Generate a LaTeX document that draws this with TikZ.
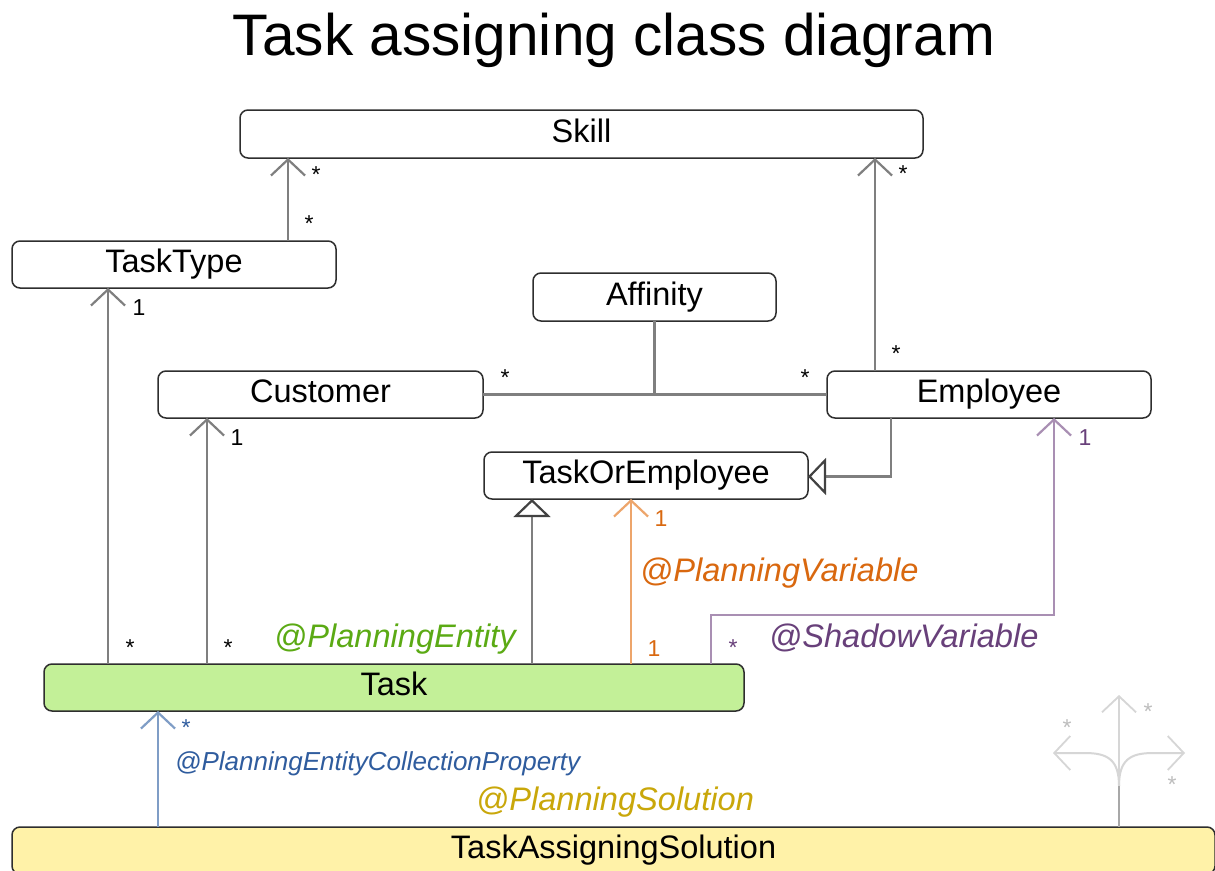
\documentclass[tikz,border=0pt]{standalone}
\usepackage{fontspec}
\setmainfont{Liberation Sans}
\usetikzlibrary{arrows.meta}
\definecolor{linegrey}{HTML}{7F7F7F}
\definecolor{boxline}{HTML}{2E2E2E}
\definecolor{taskfill}{HTML}{C3F098}
\definecolor{solfill}{HTML}{FFF2A8}
\definecolor{bluel}{HTML}{7F9DC6}
\definecolor{bluet}{HTML}{2F5C9E}
\definecolor{orangel}{HTML}{EDA56B}
\definecolor{oranget}{HTML}{D9680F}
\definecolor{purplel}{HTML}{A98FB3}
\definecolor{purplet}{HTML}{68407A}
\definecolor{greent}{HTML}{5BAA14}
\definecolor{yellowt}{HTML}{C9A70A}
\definecolor{forkl}{HTML}{D6D6D6}
\definecolor{forkd}{HTML}{A8A8A8}
\definecolor{forkt}{HTML}{BDBDBD}
\tikzset{
  cls/.style={draw=boxline,line width=1.5pt,rounded corners=8pt,fill=white,inner sep=0pt,outer sep=0pt,
    font=\fontsize{32.5}{32.5}\selectfont,text height=24pt,text depth=8pt,align=center},
  conn/.style={draw=linegrey,line width=2.8pt},
  barb/.style={-{Straight Barb[length=16pt,width=34pt,line width=2.2pt]}},
  gen/.style={-{Triangle[open,fill=white,length=18pt,width=37pt,line width=2.2pt,color=boxline!75!linegrey,fill=white]}},
  forkbarb/.style={-{Straight Barb[length=16pt,width=34pt,line width=1.8pt]}},
  mult/.style={font=\fontsize{23}{23}\selectfont,inner sep=0pt,anchor=base},
  anno/.style={font=\fontsize{32.6}{32.6}\itshape\selectfont,inner sep=0pt,anchor=base west},
}
\begin{document}
\begin{tikzpicture}[x=1pt,y=-1pt]
\useasboundingbox (0,0) rectangle (1215,870);
\clip (0,0) rectangle (1215,870);
\fill[white] (0,0) rectangle (1215,870);
\node[inner sep=0pt,anchor=base,font=\fontsize{58.6}{58.6}\selectfont] (title) at (614,55) {Task assigning class diagram};

\node[cls,minimum width=683pt,minimum height=48pt] (skill) at (581.5,134) {Skill};
\node[cls,minimum width=324pt,minimum height=47pt] (tasktype) at (174,264.5) {TaskType};
\node[cls,minimum width=243pt,minimum height=48pt] (affinity) at (654.5,297) {Affinity};
\node[cls,minimum width=325pt,minimum height=47pt] (customer) at (320.5,394.5) {Customer};
\node[cls,minimum width=324pt,minimum height=47pt] (employee) at (989,394.5) {Employee};
\node[cls,minimum width=324pt,minimum height=47pt] (toe) at (646,475.5) {TaskOrEmployee};
\node[cls,fill=taskfill,minimum width=700pt,minimum height=47pt] (task) at (394,687.5) {Task};
\node[cls,fill=solfill,minimum width=1203pt,minimum height=47pt] (sol) at (613.5,850.5) {TaskAssigningSolution};

% grey connectors
\draw[conn,barb] (tasktype.north -| 288,0) -- (skill.south -| 288,0);
\draw[conn,barb] (employee.north -| 875,0) -- (skill.south -| 875,0);
\draw[conn,barb] (task.north -| 108,0) -- (tasktype.south -| 108,0);
\draw[conn,barb] (task.north -| 207,0) -- (customer.south -| 207,0);
\draw[conn] (customer.east) -- (employee.west);
\draw[conn] (affinity.south) -- (affinity.south |- customer.east);
\draw[conn,gen] (employee.south -| 891,0) -- (891,476.5) -- (toe.east |- 891,476.5);
\draw[conn,gen] (task.north -| 532,0) -- (toe.south -| 532,0);

% coloured connectors
\draw[conn,barb,draw=orangel] (task.north -| 631,0) -- (toe.south -| 631,0);
\draw[conn,barb,draw=purplel] (task.north -| 711,0) -- (711,615) -- (1054,615) -- (employee.south -| 1054,0);
\draw[conn,barb,draw=bluel] (sol.north -| 158,0) -- (task.south -| 158,0);

% decorative fork
\coordinate (forkbase) at (sol.north -| 1119,0);
\coordinate (forktop) at (1119,695);
\coordinate (forkleft) at (1053,753);
\coordinate (forkright) at (1185,753);
\coordinate (forkmid) at (1119,786);
\draw[draw=forkl,line width=2pt,forkbarb] (forkmid) .. controls (1119,760) and (1108,753) .. (1085,753) -- (forkleft);
\draw[draw=forkl,line width=2pt,forkbarb] (forkmid) .. controls (1119,760) and (1130,753) .. (1153,753) -- (forkright);
\draw[draw=forkl,line width=2.8pt,forkbarb] (forkmid) -- (forktop);
\draw[draw=forkd,line width=2.8pt] (forkbase) -- (forkmid);

% multiplicities
\node[mult] (m1) at (316,182) {*};
\node[mult] (m2) at (309,231) {*};
\node[mult] (m3) at (903,181) {*};
\node[mult] (m4) at (896,361) {*};
\node[mult] (m5) at (139,315) {1};
\node[mult] (m6) at (237,445) {1};
\node[mult] (m7) at (505,385) {*};
\node[mult] (m8) at (805,385) {*};
\node[mult] (m9) at (130,655) {*};
\node[mult] (m10) at (228,655) {*};
\node[mult,text=oranget] (m11) at (661,526) {1};
\node[mult,text=oranget] (m12) at (654,656) {1};
\node[mult,text=purplet] (m13) at (733,655) {*};
\node[mult,text=purplet] (m14) at (1085,445) {1};
\node[mult,text=bluet] (m15) at (186,735) {*};
\node[mult,text=forkt] (m16) at (1067,735) {*};
\node[mult,text=forkt] (m17) at (1148,719) {*};
\node[mult,text=forkt] (m18) at (1172,792) {*};

% annotations
\node[anno,text=greent] (a1) at (274,647) {@PlanningEntity};
\node[anno,text=oranget] (a2) at (640,581) {@PlanningVariable};
\node[anno,text=purplet] (a3) at (769,647) {@ShadowVariable};
\node[anno,text=bluet,font=\fontsize{26}{26}\itshape\selectfont] (a4) at (175,770) {@PlanningEntityCollectionProperty};
\node[anno,text=yellowt] (a5) at (476,810) {@PlanningSolution};
\end{tikzpicture}
\end{document}
